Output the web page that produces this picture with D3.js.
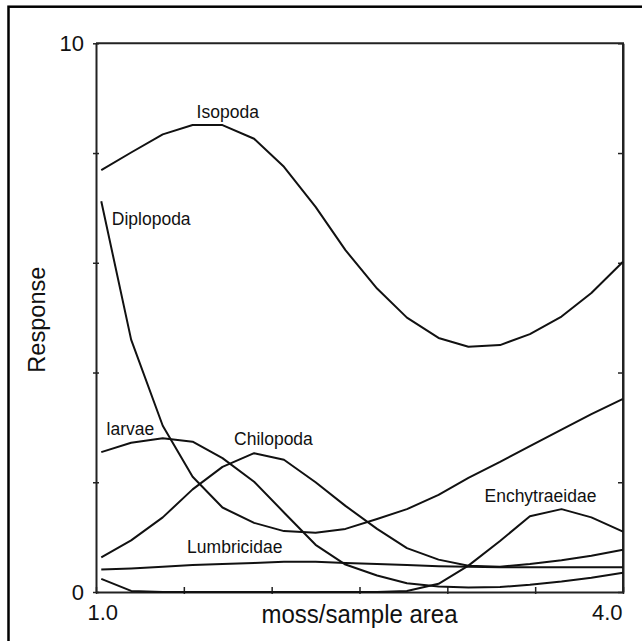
<!DOCTYPE html>
<html>
<head>
<meta charset="utf-8">
<script src="https://cdn.jsdelivr.net/npm/d3@7/dist/d3.min.js"></script>
<style>
    html, body { margin: 0; padding: 0; background: #fff; }
    svg { display: block; font-family: "Liberation Sans", Arial, sans-serif; }
</style>
</head>
<body>
<div id="chart"></div>
<script>
// x positions of the fitted curve vertices (moss/sample area)
var xs = [1.03, 1.20, 1.38, 1.55, 1.72, 1.90, 2.07, 2.25, 2.42, 2.60, 2.77, 2.95, 3.12, 3.30, 3.47, 3.65, 3.82, 4.00];

// responses
var isopoda       = [7.69, 8.01, 8.34, 8.51, 8.51, 8.26, 7.75, 7.02, 6.23, 5.53, 5.00, 4.63, 4.47, 4.50, 4.70, 5.02, 5.45, 6.02];
var diplopoda     = [7.12, 4.60, 3.03, 2.10, 1.54, 1.26, 1.11, 1.08, 1.15, 1.33, 1.51, 1.77, 2.08, 2.37, 2.66, 2.96, 3.24, 3.52];
var larvae        = [2.55, 2.72, 2.80, 2.74, 2.44, 2.01, 1.45, 0.86, 0.50, 0.30, 0.16, 0.10, 0.08, 0.09, 0.13, 0.19, 0.26, 0.35];
var chilopoda     = [0.63, 0.94, 1.36, 1.87, 2.28, 2.53, 2.41, 2.00, 1.57, 1.15, 0.80, 0.59, 0.48, 0.46, 0.51, 0.58, 0.66, 0.77];
var lumbricidae   = [0.41, 0.43, 0.46, 0.49, 0.51, 0.53, 0.55, 0.55, 0.53, 0.51, 0.49, 0.47, 0.46, 0.45, 0.45, 0.45, 0.45, 0.45];
var enchytraeidae = [0.24, 0.02, 0, 0, 0, 0, 0, 0, 0, 0, 0.02, 0.15, 0.48, 0.93, 1.38, 1.51, 1.36, 1.10];

var seriesNames = ["Isopoda", "Diplopoda", "larvae", "Chilopoda", "Lumbricidae", "Enchytraeidae"];
var seriesValues = [isopoda, diplopoda, larvae, chilopoda, lumbricidae, enchytraeidae];

// where each curve name sits (data units) and how it is anchored
var labelX = [1.75, 1.09, 1.06, 2.01, 1.79, 3.53];
var labelY = [8.64, 6.69, 2.87, 2.68, 0.71, 1.64];
var labelAnchor = ["middle", "start", "start", "middle", "middle", "middle"];

var xTicks = [1.0, 1.5, 2.0, 2.5, 3.0, 3.5, 4.0];
var xTickLabels = ["1.0", "", "", "", "", "", "4.0"];
var yTicks = [0, 2, 4, 6, 8, 10];
var yTickLabels = ["0", "", "", "", "", "10"];

var W = 642, H = 641;
var margin = {top: 43.3, right: 19, bottom: 49, left: 96};

var svg = d3.select("#chart").append("svg")
    .attr("width", W)
    .attr("height", H);

// outer frame of the figure
svg.append("rect")
    .attr("x", 8.5)
    .attr("y", 6.7)
    .attr("width", W + 10)
    .attr("height", H + 10)
    .attr("fill", "none")
    .attr("stroke", "#000")
    .attr("stroke-width", 2.5);

var x = d3.scaleLinear().domain([1, 4]).range([margin.left, W - margin.right]);
var y = d3.scaleLinear().domain([0, 10]).range([H - margin.bottom, margin.top]);

var xAxis = d3.axisBottom(x)
    .tickValues(xTicks)
    .tickSize(5)
    .tickSizeOuter(0)
    .tickFormat(function (d, i) { return xTickLabels[i]; });
var yAxis = d3.axisLeft(y)
    .tickValues(yTicks)
    .tickSize(3)
    .tickSizeOuter(0)
    .tickPadding(9)
    .tickFormat(function (d, i) { return yTickLabels[i]; });
var yAxisRight = d3.axisLeft(y)
    .tickValues(yTicks)
    .tickSize(-5)
    .tickSizeOuter(0)
    .tickFormat("");

// top + right frame lines
svg.append("path")
    .attr("d", "M" + x(1) + "," + y(10) + "H" + x(4) + "V" + y(0))
    .attr("fill", "none")
    .attr("stroke", "#222")
    .attr("stroke-width", 2);

var gx = svg.append("g")
    .attr("transform", "translate(0," + y(0) + ")")
    .call(xAxis);
gx.selectAll(".tick line").attr("y1", 2).attr("y2", -5);
gx.selectAll(".tick text")
    .attr("y", 28)
    .attr("dy", 0)
    .attr("font-size", 22)
    .attr("text-anchor", function (d, i) { return i === 0 ? "start" : "end"; })
    .attr("dx", function (d, i) { return i === 0 ? -9 : -1; });

var gy = svg.append("g")
    .attr("transform", "translate(" + x(1) + ",0)")
    .call(yAxis);
gy.selectAll(".tick line").attr("x1", 3).attr("x2", -3);
gy.selectAll(".tick text").attr("font-size", 22);

var gyr = svg.append("g")
    .attr("transform", "translate(" + x(4) + ",0)")
    .call(yAxisRight);
gyr.selectAll(".tick line").attr("x1", 0).attr("x2", -5);

svg.selectAll(".domain").attr("stroke", "#222").attr("stroke-width", 2);
svg.selectAll(".tick line").attr("stroke", "#222").attr("stroke-width", 1.5);
svg.selectAll(".tick text").attr("fill", "#111").attr("font-family", "'Liberation Sans', Arial, sans-serif");

// curves
var line = d3.line()
    .x(function (d, i) { return x(xs[i]); })
    .y(function (d) { return y(d); });

svg.append("g")
    .selectAll("path")
    .data(seriesValues)
    .enter()
    .append("path")
    .attr("d", line)
    .attr("fill", "none")
    .attr("stroke", "#111")
    .attr("stroke-width", 2)
    .attr("stroke-linejoin", "round");

// curve names
svg.append("g")
    .selectAll("text")
    .data(seriesNames)
    .enter()
    .append("text")
    .attr("x", function (d, i) { return x(labelX[i]); })
    .attr("y", function (d, i) { return y(labelY[i]); })
    .attr("text-anchor", function (d, i) { return labelAnchor[i]; })
    .attr("font-size", 17.5)
    .attr("fill", "#111")
    .text(function (d) { return d; });

// axis titles
svg.append("text")
    .attr("x", (x(1) + x(4)) / 2)
    .attr("y", 623)
    .attr("text-anchor", "middle")
    .attr("font-size", 26)
    .attr("textLength", 196)
    .attr("lengthAdjust", "spacingAndGlyphs")
    .attr("fill", "#111")
    .text("moss/sample area");

svg.append("text")
    .attr("transform", "translate(45," + (y(5) + 2) + ") rotate(-90)")
    .attr("text-anchor", "middle")
    .attr("font-size", 24)
    .attr("textLength", 106)
    .attr("lengthAdjust", "spacingAndGlyphs")
    .attr("fill", "#111")
    .text("Response");
</script>
</body>
</html>
